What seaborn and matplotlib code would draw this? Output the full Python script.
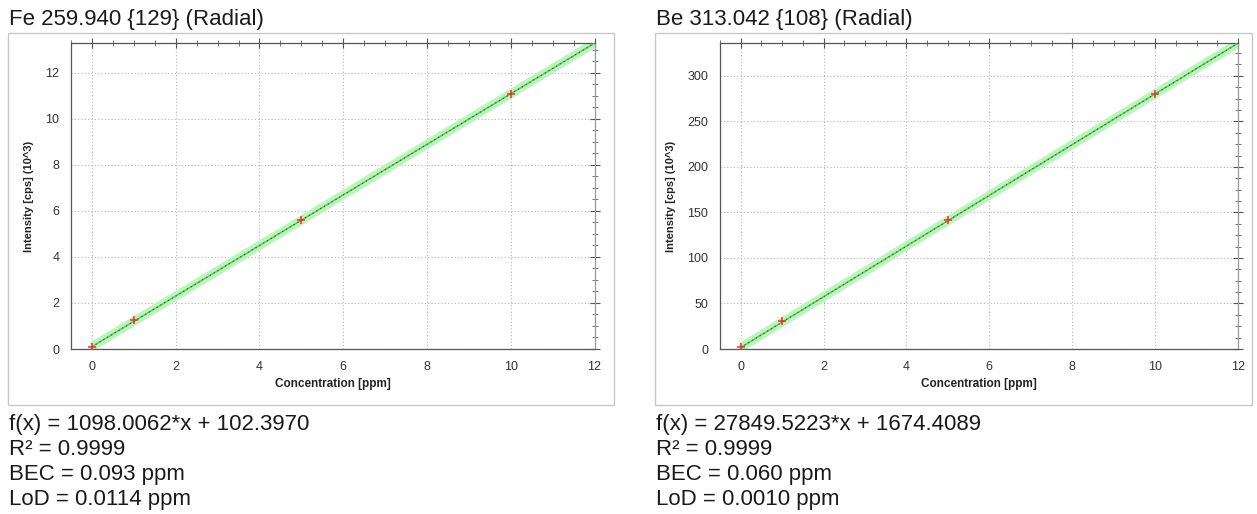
import numpy as np
import pandas as pd
import matplotlib.pyplot as plt
from matplotlib.patches import Rectangle
from matplotlib.ticker import MultipleLocator
import seaborn as sns

# calibration standards (ppm) and measured intensities (10^3 cps)
conc = [0, 1, 5, 10]
fe_intensity = [0.08, 1.27, 5.58, 11.07]
be_intensity = [1.7, 30.5, 141.5, 280.5]

# fitted calibration functions f(x) = a*x + b  (cps)
fe_fit = (1098.0062, 102.3970)
be_fit = (27849.5223, 1674.4089)
fit_range = [0, 12]

titles = ["Fe 259.940 {129} (Radial)", "Be 313.042 {108} (Radial)"]
stats = [
    ["f(x) = 1098.0062*x + 102.3970", "R² = 0.9999", "BEC = 0.093 ppm", "LoD = 0.0114 ppm"],
    ["f(x) = 27849.5223*x + 1674.4089", "R² = 0.9999", "BEC = 0.060 ppm", "LoD = 0.0010 ppm"],
]
y_major = [2, 50]

sns.set_theme(style="white")
plt.rcParams['font.family'] = ['Liberation Sans', 'DejaVu Sans']

fig = plt.figure(figsize=(12.57, 5.14), dpi=100)

axes_rects = [[0.0565, 0.321, 0.4165, 0.595], [0.5728, 0.321, 0.4121, 0.595]]
box_rects = [[0.0064, 0.212, 0.482, 0.7237], [0.521, 0.212, 0.475, 0.7237]]
text_x = [0.007, 0.5215]

for i, (values, fit) in enumerate([(fe_intensity, fe_fit), (be_intensity, be_fit)]):
    # outer panel frame
    fig.patches.append(Rectangle(box_rects[i][:2], box_rects[i][2], box_rects[i][3],
                                 transform=fig.transFigure, fill=False,
                                 edgecolor='#c8c8c8', linewidth=1.0))
    ax = fig.add_axes(axes_rects[i])

    fit_df = pd.DataFrame({'x': fit_range,
                           'y': [(fit[0] * x + fit[1]) / 1000 for x in fit_range]})
    pts_df = pd.DataFrame({'x': conc, 'y': values})

    # confidence band + fit line
    sns.lineplot(data=fit_df, x='x', y='y', ax=ax, color='#bdf3bd', linewidth=6.5,
                 solid_capstyle='butt', zorder=2)
    sns.lineplot(data=fit_df, x='x', y='y', ax=ax, color='#5cc85c', linewidth=1.1, zorder=3)
    sns.lineplot(data=fit_df, x='x', y='y', ax=ax, color='#2c5a2c', linewidth=0.8,
                 linestyle=(0, (1, 3)), zorder=4)
    sns.scatterplot(data=pts_df, x='x', y='y', ax=ax, marker='+', color='#e8322a',
                    s=30, linewidth=1.1, zorder=5)

    ax.set_xlim(-0.5, 12)
    ax.set_ylim(0, fit_df['y'].iloc[-1])
    ax.xaxis.set_major_locator(MultipleLocator(2))
    ax.xaxis.set_minor_locator(MultipleLocator(0.5))
    ax.yaxis.set_major_locator(MultipleLocator(y_major[i]))
    ax.yaxis.set_minor_locator(MultipleLocator(y_major[i] / 4))

    ax.grid(True, which='major', linestyle=(0, (1, 2)), color='#b4b4b4', linewidth=0.8)
    ax.set_axisbelow(True)
    ax.tick_params(which='major', direction='inout', length=7, width=0.8, color='#555555',
                   labelsize=9, labelcolor='#333333', pad=5,
                   top=True, right=True)
    ax.tick_params(which='minor', direction='inout', length=4, width=0.7, color='#777777',
                   top=True, right=True)
    for side in ['top', 'right', 'bottom', 'left']:
        ax.spines[side].set_color('#555555')
        ax.spines[side].set_linewidth(0.9)
    ax.spines['right'].set_color('#999999')

    ax.set_xlabel("Concentration [ppm]", fontsize=8.5, fontweight='bold', color='#222222', labelpad=4)
    ax.set_ylabel("Intensity [cps] (10^3)", fontsize=8, fontweight='bold', color='#222222', labelpad=8)

    fig.text(text_x[i], 0.962, titles[i], fontsize=16, color='#1a1a1a', va='center', ha='left')
    for k, line in enumerate(stats[i]):
        fig.text(text_x[i], 0.175 - k * 0.0487, line, fontsize=16, color='#1a1a1a',
                 va='center', ha='left')

fig.savefig("out.png", dpi=100)
